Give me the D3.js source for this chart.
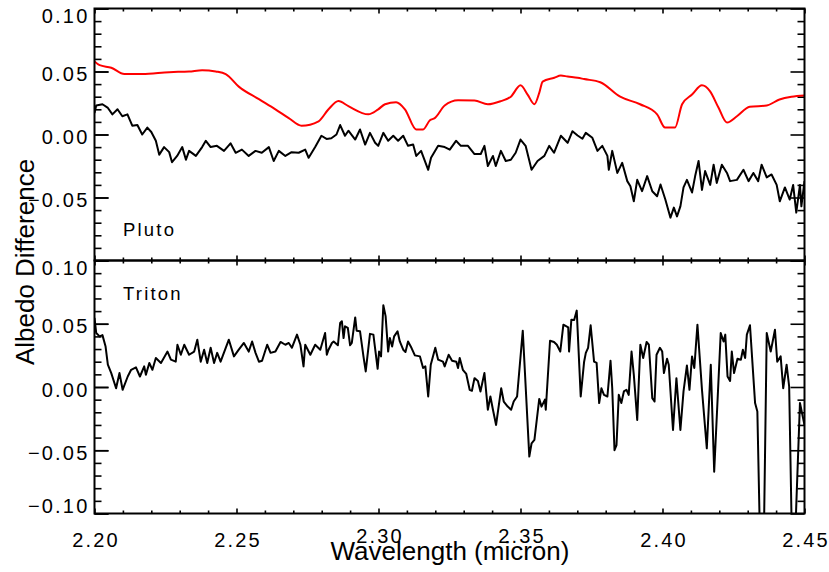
<!DOCTYPE html>
<html>
<head>
<meta charset="utf-8">
<script src="https://cdn.jsdelivr.net/npm/d3@7"></script>
<style>
  body { margin: 0; background: #fff; }
  text { font-family: "Liberation Sans", Arial, sans-serif; fill: #000; }
  .tick text, .panel-label { letter-spacing: 2.2px; }
</style>
</head>
<body>
<div id="chart"></div>
<script>
// Pluto model (red, smooth)
const redWave = [2.2000, 2.2018, 2.2059, 2.2105, 2.2168, 2.2263, 2.2333, 2.2379, 2.2427, 2.2462,
  2.2508, 2.2579, 2.2637, 2.2684, 2.2729, 2.2789, 2.2824, 2.2859, 2.2894, 2.2964,
  2.2999, 2.3023, 2.3062, 2.3093, 2.3133, 2.3157, 2.3181, 2.3198, 2.3233, 2.3280,
  2.3338, 2.3385, 2.3431, 2.3466, 2.3500, 2.3525, 2.3549, 2.3566, 2.3578, 2.3619,
  2.3642, 2.3666, 2.3701, 2.3724, 2.3781, 2.3851, 2.3921, 2.3981, 2.4009, 2.4044,
  2.4069, 2.4104, 2.4139, 2.4167, 2.4197, 2.4227, 2.4262, 2.4307, 2.4367, 2.4412,
  2.4454, 2.4500]
const redAlb = [0.058, 0.055, 0.053, 0.048, 0.048, 0.0495, 0.050, 0.051, 0.050, 0.048,
  0.038, 0.028, 0.020, 0.013, 0.007, 0.0105, 0.020, 0.0265, 0.0225, 0.016,
  0.020, 0.024, 0.0256, 0.020, 0.004, 0.004, 0.0113, 0.013, 0.023, 0.0272,
  0.027, 0.024, 0.0265, 0.030, 0.039, 0.0317, 0.024, 0.033, 0.042, 0.045,
  0.0468, 0.046, 0.045, 0.044, 0.0415, 0.030, 0.024, 0.016, 0.0055, 0.0055,
  0.024, 0.0317, 0.039, 0.0344, 0.0214, 0.0095, 0.0145, 0.022, 0.023, 0.0278,
  0.030, 0.031]

// Pluto (black)
const plutoWave = [2.2000, 2.2006, 2.2028, 2.2046, 2.2063, 2.2081, 2.2098, 2.2116, 2.2133, 2.2151,
  2.2168, 2.2186, 2.2200, 2.2216, 2.2228, 2.2245, 2.2263, 2.2273, 2.2291, 2.2309,
  2.2322, 2.2333, 2.2357, 2.2379, 2.2392, 2.2409, 2.2431, 2.2456, 2.2479, 2.2497,
  2.2519, 2.2543, 2.2567, 2.2589, 2.2614, 2.2631, 2.2649, 2.2672, 2.2694, 2.2719,
  2.2742, 2.2754, 2.2777, 2.2799, 2.2817, 2.2834, 2.2852, 2.2865, 2.2882, 2.2894,
  2.2918, 2.2935, 2.2953, 2.2970, 2.2988, 2.2999, 2.3017, 2.3034, 2.3052, 2.3069,
  2.3087, 2.3104, 2.3122, 2.3133, 2.3150, 2.3175, 2.3185, 2.3210, 2.3233, 2.3251,
  2.3273, 2.3290, 2.3315, 2.3338, 2.3360, 2.3373, 2.3385, 2.3403, 2.3413, 2.3431,
  2.3448, 2.3466, 2.3483, 2.3500, 2.3518, 2.3539, 2.3560, 2.3584, 2.3601, 2.3618,
  2.3642, 2.3666, 2.3683, 2.3701, 2.3718, 2.3730, 2.3753, 2.3771, 2.3788, 2.3806,
  2.3811, 2.3823, 2.3841, 2.3858, 2.3876, 2.3887, 2.3899, 2.3911, 2.3928, 2.3946,
  2.3964, 2.3981, 2.3993, 2.4010, 2.4028, 2.4040, 2.4051, 2.4063, 2.4074, 2.4086,
  2.4104, 2.4115, 2.4127, 2.4139, 2.4150, 2.4168, 2.4180, 2.4191, 2.4209, 2.4227,
  2.4238, 2.4262, 2.4285, 2.4303, 2.4320, 2.4337, 2.4349, 2.4367, 2.4384, 2.4402,
  2.4413, 2.4431, 2.4448, 2.4460, 2.4471, 2.4484, 2.4489, 2.4500]
const plutoAlb = [0.017, 0.023, 0.024, 0.0214, 0.016, 0.020, 0.0145, 0.016, 0.007, 0.0075,
  0.000, 0.0055, 0.002, -0.005, -0.016, -0.010, -0.014, -0.022, -0.017, -0.010,
  -0.020, -0.013, -0.017, -0.010, -0.005, -0.010, -0.009, -0.013, -0.007, -0.0145,
  -0.012, -0.017, -0.013, -0.0145, -0.010, -0.021, -0.013, -0.017, -0.014, -0.0145,
  -0.012, -0.0185, -0.010, -0.001, -0.0035, -0.003, 0.000, 0.0075, -0.001, 0.003,
  -0.004, 0.004, -0.008, 0.0013, -0.0066, -0.009, 0.0013, -0.005, -0.001, -0.005,
  -0.001, -0.009, -0.008, -0.017, -0.013, -0.028, -0.0185, -0.009, -0.010, -0.012,
  -0.005, -0.009, -0.009, -0.0155, -0.0155, -0.009, -0.025, -0.017, -0.025, -0.013,
  -0.021, -0.020, -0.0145, -0.004, -0.009, -0.028, -0.021, -0.017, -0.009, -0.0145,
  -0.001, -0.0066, 0.0026, -0.0008, -0.0034, 0.0013, -0.0026, -0.013, -0.009, -0.017,
  -0.028, -0.013, -0.0305, -0.0225, -0.037, -0.041, -0.053, -0.036, -0.045, -0.033,
  -0.045, -0.049, -0.0397, -0.0516, -0.066, -0.058, -0.065, -0.057, -0.042, -0.036,
  -0.046, -0.033, -0.021, -0.044, -0.029, -0.040, -0.024, -0.0384, -0.024, -0.0305,
  -0.037, -0.036, -0.028, -0.037, -0.0305, -0.037, -0.024, -0.034, -0.0317, -0.040,
  -0.053, -0.042, -0.0516, -0.040, -0.062, -0.040, -0.057, -0.037]

// Triton (black)
const tritonWave = [2.2000, 2.2006, 2.2018, 2.2028, 2.2039, 2.2047, 2.2059, 2.2076, 2.2088, 2.2099,
  2.2117, 2.2129, 2.2146, 2.2160, 2.2175, 2.2181, 2.2193, 2.2204, 2.2216, 2.2234,
  2.2257, 2.2269, 2.2286, 2.2292, 2.2304, 2.2316, 2.2333, 2.2351, 2.2362, 2.2374,
  2.2386, 2.2397, 2.2409, 2.2421, 2.2432, 2.2444, 2.2473, 2.2491, 2.2508, 2.2526,
  2.2543, 2.2555, 2.2567, 2.2579, 2.2590, 2.2608, 2.2620, 2.2637, 2.2655, 2.2672,
  2.2684, 2.2695, 2.2713, 2.2725, 2.2736, 2.2742, 2.2760, 2.2777, 2.2795, 2.2812,
  2.2818, 2.2824, 2.2836, 2.2842, 2.2857, 2.2865, 2.2871, 2.2877, 2.2882, 2.2892,
  2.2900, 2.2906, 2.2918, 2.2923, 2.2935, 2.2947, 2.2955, 2.2970, 2.2982, 2.2997,
  2.3002, 2.3009, 2.3017, 2.3025, 2.3034, 2.3040, 2.3048, 2.3055, 2.3067, 2.3075,
  2.3087, 2.3095, 2.3104, 2.3116, 2.3128, 2.3146, 2.3157, 2.3165, 2.3175, 2.3184,
  2.3200, 2.3210, 2.3227, 2.3233, 2.3247, 2.3259, 2.3274, 2.3280, 2.3286, 2.3297,
  2.3309, 2.3321, 2.3329, 2.3338, 2.3350, 2.3359, 2.3373, 2.3385, 2.3394, 2.3403,
  2.3414, 2.3432, 2.3441, 2.3455, 2.3467, 2.3476, 2.3488, 2.3508, 2.3531, 2.3539,
  2.3549, 2.3566, 2.3574, 2.3586, 2.3589, 2.3604, 2.3618, 2.3628, 2.3640, 2.3651,
  2.3668, 2.3671, 2.3679, 2.3689, 2.3698, 2.3712, 2.3724, 2.3730, 2.3738, 2.3747,
  2.3759, 2.3768, 2.3777, 2.3785, 2.3794, 2.3806, 2.3817, 2.3823, 2.3831, 2.3838,
  2.3846, 2.3855, 2.3864, 2.3873, 2.3881, 2.3891, 2.3899, 2.3911, 2.3922, 2.3932,
  2.3944, 2.3952, 2.3964, 2.3972, 2.3979, 2.3991, 2.3999, 2.4005, 2.4016, 2.4022,
  2.4037, 2.4049, 2.4063, 2.4074, 2.4086, 2.4095, 2.4104, 2.4112, 2.4123, 2.4139,
  2.4156, 2.4170, 2.4182, 2.4205, 2.4215, 2.4221, 2.4229, 2.4238, 2.4244, 2.4252,
  2.4264, 2.4276, 2.4283, 2.4291, 2.4297, 2.4308, 2.4326, 2.4334, 2.4346, 2.4355,
  2.4367, 2.4381, 2.4396, 2.4404, 2.4416, 2.4425, 2.4437, 2.4446, 2.4458, 2.4462,
  2.4484, 2.4500]
const tritonAlb = [0.0546, 0.0427, 0.040, 0.041, 0.032, 0.0176, 0.011, -0.001, 0.011, -0.0022,
  0.0083, 0.0136, 0.0155, 0.0083, 0.0163, 0.0097, 0.019, 0.0136, 0.0229, 0.019,
  0.028, 0.0216, 0.020, 0.0334, 0.0255, 0.0334, 0.0255, 0.028, 0.0374, 0.020,
  0.0295, 0.019, 0.031, 0.019, 0.027, 0.020, 0.0374, 0.0242, 0.0295, 0.0348,
  0.028, 0.036, 0.027, 0.020, 0.0208, 0.0334, 0.027, 0.028, 0.0356, 0.0334,
  0.0348, 0.031, 0.0414, 0.0334, 0.0163, 0.0334, 0.0255, 0.0334, 0.0295, 0.0427,
  0.0255, 0.0295, 0.0348, 0.036, 0.033, 0.0506, 0.052, 0.0387, 0.048, 0.0467,
  0.033, 0.0348, 0.055, 0.0445, 0.044, 0.0242, 0.0123, 0.042, 0.0414, 0.0144,
  0.028, 0.0242, 0.0646, 0.056, 0.028, 0.0387, 0.032, 0.040, 0.044, 0.036,
  0.0295, 0.0277, 0.036, 0.031, 0.025, 0.0242, 0.015, 0.0163, -0.0075, 0.0176,
  0.031, 0.0216, 0.020, 0.0163, 0.0255, 0.0208, 0.020, 0.015, 0.0229, 0.0136,
  0.0103, -0.0022, -0.003, 0.007, 0.0048, -0.0035, 0.011, -0.018, -0.0075, -0.018,
  -0.030, -0.001, -0.0115, -0.0155, -0.018, -0.0115, -0.0075, 0.0445, -0.055, -0.0445,
  -0.0418, -0.0094, -0.0155, -0.010, -0.018, 0.0366, 0.0356, 0.0334, 0.028, 0.0493,
  0.0472, 0.028, 0.0532, 0.053, 0.0604, -0.0075, 0.020, 0.027, 0.031, 0.0488,
  0.020, 0.019, -0.0127, -0.001, -0.0062, -0.0075, 0.0208, -0.001, -0.050, -0.046,
  -0.0062, -0.0127, -0.0035, -0.0022, -0.0062, 0.028, 0.0097, -0.026, 0.0334, 0.0229,
  0.0356, 0.0334, -0.0088, -0.0115, 0.0255, 0.031, 0.028, 0.011, 0.0223, 0.0176,
  -0.034, 0.007, -0.034, -0.0035, 0.017, -0.0022, 0.0242, 0.015, 0.0493, -0.0022,
  -0.0485, 0.0176, -0.067, 0.0427, 0.036, 0.0414, 0.0083, 0.0048, 0.028, 0.011,
  0.0223, 0.0216, 0.0295, 0.0229, 0.0414, 0.0488, -0.0127, -0.0194, -0.150, -0.150,
  0.0427, 0.028, 0.0453, 0.020, 0.0242, -0.001, 0.0176, 0.0004, -0.150, -0.150,
  -0.0127, -0.030]

const xMajor = [2.20, 2.25, 2.30, 2.35, 2.40, 2.45]
const yMajorTop = [0.10, 0.05, 0.00, -0.05]
const yMajorBottom = [0.10, 0.05, 0.00, -0.05, -0.10]

const width = 829, height = 572
const left = 94.5, right = 804.5
const panels = [
    { name: "Pluto", top: 8.5, bottom: 260.5, labels: yMajorTop, labelY: 236 },
    { name: "Triton", top: 260.5, bottom: 513.5, labels: yMajorBottom, labelY: 300 }
]

const svg = d3.select("#chart")
    .append("svg")
    .attr("width", width)
    .attr("height", height)

const x = d3.scaleLinear().domain([2.20, 2.45]).range([left, right])

const xMinor = d3.range(2.20, 2.4501, 0.01).map(d => +d.toFixed(2))
    .filter(d => !xMajor.some(m => Math.abs(m - d) < 1e-6))
const yMinor = d3.range(-0.10, 0.1001, 0.01).map(d => +d.toFixed(2))
    .filter(d => Math.abs(d * 100) % 5 > 1e-6)

function styleAxis(g) {
    g.select(".domain").remove()
    g.selectAll("line").attr("stroke", "#000").attr("stroke-width", 1.6)
}

panels.forEach((p, i) => {
    const y = d3.scaleLinear().domain([-0.10, 0.10]).range([p.bottom, p.top])
    const g = svg.append("g")

    // clip for data lines
    const clipId = "clip" + i
    svg.append("clipPath").attr("id", clipId)
        .append("rect")
        .attr("x", left).attr("y", p.top)
        .attr("width", right - left).attr("height", p.bottom - p.top)

    // ticks: bottom / top
    g.append("g").attr("transform", `translate(0,${p.bottom})`)
        .call(d3.axisBottom(x).tickValues(xMajor).tickSize(-5).tickFormat(""))
        .call(styleAxis)
    g.append("g").attr("transform", `translate(0,${p.bottom})`)
        .call(d3.axisBottom(x).tickValues(xMinor).tickSize(-3).tickFormat(""))
        .call(styleAxis)
    g.append("g").attr("transform", `translate(0,${p.top})`)
        .call(d3.axisTop(x).tickValues(xMajor).tickSize(-5).tickFormat(""))
        .call(styleAxis)
    g.append("g").attr("transform", `translate(0,${p.top})`)
        .call(d3.axisTop(x).tickValues(xMinor).tickSize(-3).tickFormat(""))
        .call(styleAxis)

    // ticks: left / right
    const yl = g.append("g").attr("transform", `translate(${left},0)`)
        .call(d3.axisLeft(y).tickValues(p.labels).tickSize(-14).tickPadding(5)
            .tickFormat(d3.format(".2f")))
        .call(styleAxis)
    yl.selectAll("text")
        .style("font-size", "20px")
        .attr("dy", d => d === 0.10 ? "0.7em" : d === -0.10 ? "-0.05em" : "0.45em")
    g.append("g").attr("transform", `translate(${left},0)`)
        .call(d3.axisLeft(y).tickValues([-0.10].concat(yMajorTop)).tickSize(-14).tickFormat(""))
        .call(styleAxis)
    g.append("g").attr("transform", `translate(${left},0)`)
        .call(d3.axisLeft(y).tickValues(yMinor).tickSize(-7).tickFormat(""))
        .call(styleAxis)
    g.append("g").attr("transform", `translate(${right},0)`)
        .call(d3.axisRight(y).tickValues([-0.10].concat(yMajorTop)).tickSize(-14).tickFormat(""))
        .call(styleAxis)
    g.append("g").attr("transform", `translate(${right},0)`)
        .call(d3.axisRight(y).tickValues(yMinor).tickSize(-7).tickFormat(""))
        .call(styleAxis)

    const line = d3.line().x(d => x(d[0])).y(d => y(d[1]))

    if (i === 0) {
        g.append("path")
            .datum(d3.zip(redWave, redAlb))
            .attr("clip-path", `url(#${clipId})`)
            .attr("fill", "none")
            .attr("stroke", "#ff0000")
            .attr("stroke-width", 2)
            .attr("d", d3.line().x(d => x(d[0])).y(d => y(d[1])).curve(d3.curveMonotoneX))
        g.append("path")
            .datum(d3.zip(plutoWave, plutoAlb))
            .attr("clip-path", `url(#${clipId})`)
            .attr("fill", "none")
            .attr("stroke", "#000")
            .attr("stroke-width", 2)
            .attr("stroke-linejoin", "round")
            .attr("d", line)
    } else {
        g.append("path")
            .datum(d3.zip(tritonWave, tritonAlb))
            .attr("clip-path", `url(#${clipId})`)
            .attr("fill", "none")
            .attr("stroke", "#000")
            .attr("stroke-width", 2)
            .attr("stroke-linejoin", "round")
            .attr("d", line)
    }

    // frame
    g.append("rect")
        .attr("x", left).attr("y", p.top)
        .attr("width", right - left).attr("height", p.bottom - p.top)
        .attr("fill", "none")
        .attr("stroke", "#000")
        .attr("stroke-width", 2)

    g.append("text")
        .attr("class", "panel-label")
        .attr("x", 123)
        .attr("y", p.labelY)
        .style("font-size", "18.5px")
        .text(p.name)
})

// x tick labels on the lower panel
const xl = svg.append("g").attr("transform", `translate(0,${panels[1].bottom})`)
    .call(d3.axisBottom(x).tickValues(xMajor).tickSize(0).tickPadding(19)
        .tickFormat(d3.format(".2f")))
    .call(styleAxis)
xl.selectAll("text")
    .style("font-size", "20px")
    .attr("dx", "1px")
    // the two labels under the title sit a little higher, as in the original
    .attr("dy", d => (d === 2.30 || d === 2.35) ? "0.51em" : "0.71em")

svg.append("text")
    .attr("x", 450)
    .attr("y", 560)
    .attr("text-anchor", "middle")
    .style("font-size", "26px")
    .text("Wavelength (micron)")

svg.append("text")
    .attr("transform", "translate(33.5,262) rotate(-90)")
    .attr("text-anchor", "middle")
    .style("font-size", "26px")
    .text("Albedo Difference")
</script>
</body>
</html>
